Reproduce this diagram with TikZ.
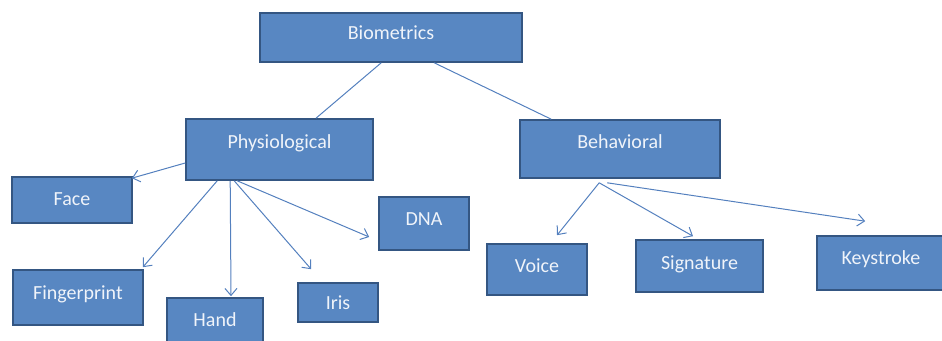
\documentclass[tikz,border=0pt]{standalone}
\usepackage{fontspec}
\setmainfont{Carlito}
\usetikzlibrary{calc,arrows.meta}
\definecolor{boxfill}{RGB}{88,135,194}
\definecolor{boxline}{RGB}{52,86,130}
\definecolor{linkc}{RGB}{84,128,190}
\definecolor{txt}{RGB}{240,244,250}
\tikzset{
  box/.style={draw=boxline, line width=1.6pt, fill=boxfill, text=txt, inner sep=0pt, font=\fontsize{20}{24}\selectfont},
  arr/.style={draw=linkc, line width=1pt, -{Straight Barb[length=7pt,width=12pt]}},
  lnk/.style={draw=linkc, line width=1pt}
}
\begin{document}
\begin{tikzpicture}[x=1pt,y=-1pt]
\useasboundingbox (0,0) rectangle (942,340);
\node[box, minimum width=262pt, minimum height=49pt] (bio) at (391,37.5) {\raisebox{9pt}{Biometrics}};
\node[box, minimum width=187pt, minimum height=61pt] (phys) at (279.5,149.5) {\raisebox{15pt}{Physiological}};
\node[box, minimum width=200pt, minimum height=58pt] (beh) at (620,149) {\raisebox{14pt}{Behavioral}};
\node[box, minimum width=120pt, minimum height=46pt] (face) at (72,200) {\raisebox{2pt}{Face}};
\node[box, minimum width=90pt, minimum height=53pt] (dna) at (424,223.5) {\raisebox{9pt}{DNA}};
\node[box, minimum width=130pt, minimum height=55pt] (fing) at (78,297.5) {\raisebox{9pt}{Fingerprint}};
\node[box, minimum width=96pt, minimum height=46pt] (hand) at (215,321) {\raisebox{2pt}{Hand}};
\node[box, minimum width=80pt, minimum height=39pt] (iris) at (338,302.5) {\raisebox{-7pt}{Iris}};
\node[box, minimum width=100pt, minimum height=51pt] (voice) at (537,269.5) {\raisebox{7pt}{Voice}};
\node[box, minimum width=127pt, minimum height=52pt] (sig) at (699.5,266) {\raisebox{6pt}{Signature}};
\node[box, minimum width=128pt, minimum height=54pt] (key) at (881,263) {\raisebox{10pt}{Keystroke}};
% top links
\draw[lnk] ($(bio.south west)+(122,0)$) -- ($(phys.north)+(36.5,0)$);
\draw[lnk] ($(bio.south west)+(175,0)$) -- ($(beh.north west)+(32,0)$);
% physiological arrows
\draw[arr] ($(phys.west)+(0,13.5)$) -- ($(face.north east)+(-1,2)$);
\draw[arr] ($(phys.south west)+(32,0)$) -- ($(fing.north east)+(-1,-2)$);
\draw[arr] ($(phys.south west)+(45,0)$) -- ($(hand.north)+(16,-1)$);
\draw[arr] ($(phys.south west)+(49,0)$) -- ($(iris.north west)+(14,-13)$);
\draw[arr] ($(phys.south west)+(52,0)$) -- ($(dna.west)+(-9,13.5)$);
% behavioral arrows
\coordinate (bs) at ($(beh.south west)+(80,4)$);
\coordinate (bk) at ($(beh.south west)+(88,4)$);
\draw[arr] (bs) -- ($(voice.north)+(20,-8)$);
\draw[arr] (bs) -- ($(sig.north)+(-6.5,-3)$);
\draw[arr] (bk) -- ($(key.north west)+(49,-14)$);
\end{tikzpicture}
\end{document}
